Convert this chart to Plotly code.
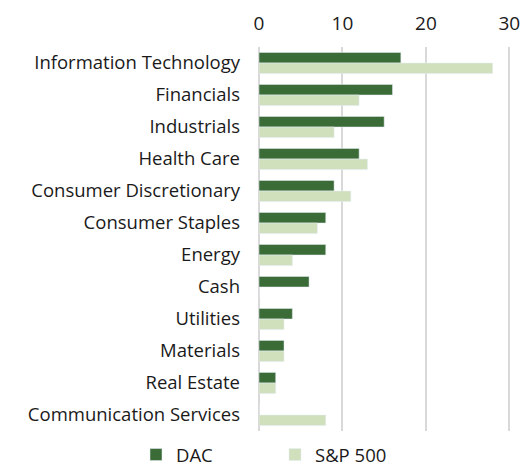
import plotly.graph_objects as go

categories = ["Information Technology", "Financials", "Industrials", "Health Care",
              "Consumer Discretionary", "Consumer Staples", "Energy", "Cash",
              "Utilities", "Materials", "Real Estate", "Communication Services"]
dac = [17, 16, 15, 12, 9, 8, 8, 6, 4, 3, 2, 0]
sp500 = [28, 12, 9, 13, 11, 7, 4, 0, 3, 3, 2, 8]
tick_vals = [0, 10, 20, 30]

fig = go.Figure()
fig.add_trace(go.Bar(y=categories, x=dac, orientation="h", name="DAC",
                     marker=dict(color="#3b6b37"), legend="legend"))
fig.add_trace(go.Bar(y=categories, x=sp500, orientation="h", name="S&P 500",
                     marker=dict(color="#d0e0bd"), legend="legend2"))

font = "Open Sans, Arial, sans-serif"
leg_common = dict(orientation="h", xref="container", yref="container",
                  xanchor="left", y=11 / 466, yanchor="middle",
                  font=dict(size=18.5), itemwidth=30, bgcolor="rgba(0,0,0,0)")
fig.update_layout(
    width=524, height=466,
    margin=dict(l=259, r=13, t=47, b=35, autoexpand=False),
    barmode="group", bargap=0.34, bargroupgap=0,
    plot_bgcolor="white", paper_bgcolor="white",
    font=dict(family=font, size=18.5, color="#1a1a1a"),
    showlegend=True,
    legend=dict(x=136 / 524, **leg_common),
    legend2=dict(x=275 / 524, **leg_common),
    xaxis=dict(side="top", range=[0, 30.2], tickvals=tick_vals, showgrid=True,
               gridcolor="#d9d9d9", gridwidth=1.5, zeroline=True,
               zerolinecolor="#d9d9d9", zerolinewidth=1.5, showline=False,
               ticks="", tickfont=dict(size=19), ticklabelstandoff=12),
    yaxis=dict(autorange="reversed", showgrid=False, ticks="", ticklen=0,
               tickfont=dict(size=18.5), showline=False, ticklabelstandoff=18),
)
fig.write_html("out.html")
